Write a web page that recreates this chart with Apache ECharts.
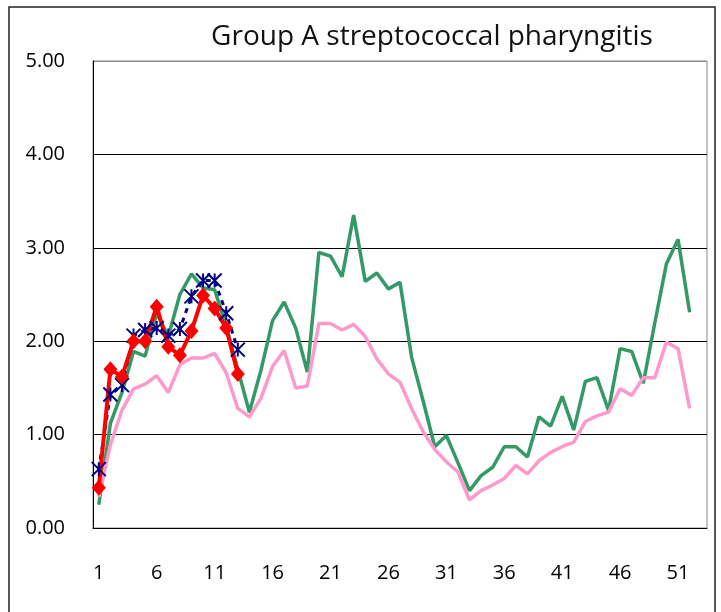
<!DOCTYPE html>
<html>
<head>
<meta charset="utf-8">
<script src="https://cdn.jsdelivr.net/npm/echarts@6/dist/echarts.min.js"></script>
<style>
html, body { margin: 0; padding: 0; background: #fff; }
#chart { width: 721px; height: 612px; }
</style>
</head>
<body>
<div id="chart"></div>
<script>
// weeks on the x axis
var weeks = ['1','2','3','4','5','6','7','8','9','10','11','12','13','14','15','16','17','18','19','20',
    '21','22','23','24','25','26','27','28','29','30','31','32','33','34','35','36','37','38','39','40',
    '41','42','43','44','45','46','47','48','49','50','51','52','53'];

// green line (previous season)
var greenData = [0.25, 1.12, 1.45, 1.89, 1.84, 2.30, 2.05, 2.50, 2.72, 2.57, 2.55, 2.16, 1.70,
    1.24, 1.69, 2.22, 2.42, 2.14, 1.67, 2.95, 2.91, 2.69, 3.35, 2.64, 2.73, 2.56, 2.63, 1.83,
    1.36, 0.87, 0.99, 0.70, 0.40, 0.56, 0.65, 0.87, 0.87, 0.76, 1.19, 1.09, 1.41, 1.05, 1.57,
    1.61, 1.26, 1.92, 1.89, 1.55, 2.20, 2.83, 3.09, 2.31];

// pink line (average)
var pinkData = [0.33, 0.89, 1.26, 1.49, 1.54, 1.63, 1.45, 1.75, 1.82, 1.82, 1.87, 1.66, 1.28,
    1.19, 1.39, 1.73, 1.90, 1.50, 1.52, 2.19, 2.19, 2.12, 2.18, 2.05, 1.81, 1.65, 1.56, 1.28,
    1.03, 0.84, 0.71, 0.60, 0.30, 0.40, 0.46, 0.53, 0.67, 0.58, 0.72, 0.81, 0.87, 0.92, 1.14,
    1.20, 1.24, 1.49, 1.42, 1.61, 1.61, 1.99, 1.92, 1.28];

// navy dashed line with asterisks
var navyData = [0.63, 1.43, 1.53, 2.06, 2.12, 2.14, 2.06, 2.13, 2.48, 2.65, 2.65, 2.30, 1.91];

// red line with diamonds (current season)
var redData = [0.43, 1.70, 1.62, 2.00, 2.00, 2.37, 1.94, 1.85, 2.11, 2.49, 2.35, 2.14, 1.65];

var yTicks = [0, 1, 2, 3, 4, 5];

var chart = echarts.init(document.getElementById('chart'));
var font = '"Open Sans", "DejaVu Sans", sans-serif';

var option = {
    animation: false,
    backgroundColor: '#fff',
    grid: {
        left: 93, right: 14, top: 61, bottom: 84,
        show: true, borderColor: '#888', borderWidth: 1
    },
    graphic: [
        {
            type: 'rect', silent: true,
            shape: { x: 9, y: 7, width: 706, height: 640 },
            style: { fill: 'none', stroke: '#222', lineWidth: 1.5 }
        },
        {
            type: 'text', silent: true, x: 432, y: 37,
            style: {
                text: 'Group A streptococcal pharyngitis',
                fontFamily: font, fontSize: 28, fill: '#111',
                textAlign: 'center', textVerticalAlign: 'middle'
            }
        }
    ],
    xAxis: {
        type: 'category',
        data: weeks,
        boundaryGap: true,
        axisLine: { lineStyle: { color: '#000', width: 1 } },
        axisTick: { inside: true, length: 6, interval: 4, lineStyle: { color: '#000' } },
        axisLabel: { interval: 4, margin: 35, color: '#000', fontSize: 20, fontFamily: font },
        splitLine: { show: false }
    },
    yAxis: {
        type: 'value',
        min: yTicks[0],
        max: yTicks[yTicks.length - 1],
        interval: 1,
        axisLine: { show: true, lineStyle: { color: '#000', width: 1 } },
        axisTick: { show: false },
        axisLabel: {
            margin: 28, color: '#000', fontSize: 20, fontFamily: font,
            formatter: function (v) { return v.toFixed(2); }
        },
        splitLine: { lineStyle: { color: ['#000', '#000', '#000', '#000', '#000', '#888'], width: 1 } }
    },
    series: [
        {
            name: 'green', type: 'line', data: greenData,
            showSymbol: false, symbol: 'none',
            lineStyle: { color: '#339966', width: 3.5 }
        },
        {
            name: 'pink', type: 'line', data: pinkData,
            showSymbol: false, symbol: 'none',
            lineStyle: { color: '#ff99cc', width: 3.5 }
        },
        {
            name: 'navy', type: 'line', data: navyData,
            showAllSymbol: true,
            symbol: 'path://M0,0L10,10M10,0L0,10M5,0L5,10',
            symbolSize: 14,
            itemStyle: { color: 'transparent', borderColor: '#000080', borderWidth: 2 },
            lineStyle: { color: '#000080', width: 3, type: [5, 5] }
        },
        {
            name: 'red', type: 'line', data: redData,
            showAllSymbol: true,
            symbol: 'diamond', symbolSize: [14, 16],
            itemStyle: { color: '#ff0000' },
            lineStyle: { color: '#ff0000', width: 4 }
        }
    ]
};

chart.setOption(option, true);
</script>
</body>
</html>
